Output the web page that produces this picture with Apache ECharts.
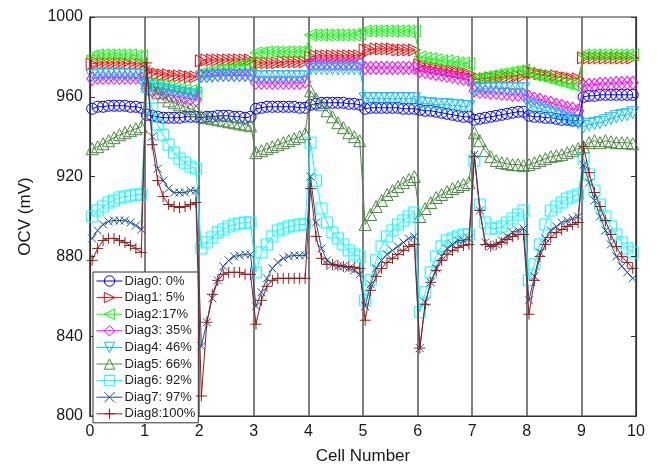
<!DOCTYPE html>
<html>
<head>
<meta charset="utf-8">
<script src="https://cdn.jsdelivr.net/npm/echarts@6/dist/echarts.min.js"></script>
<style>
  html, body { margin: 0; padding: 0; background: #fff; }
  #chart { width: 658px; height: 470px; }
</style>
</head>
<body>
<div id="chart"></div>
<script>
// 10 readings per cell, one row per cell (cell 0 .. cell 9)
let diag0 = [
  954, 955, 955, 955.5, 955.5, 955.5, 955.5, 955, 955, 954.5,
  951, 950.5, 950, 949.5, 949.5, 949.5, 949.5, 950, 950, 950,
  949.5, 950, 950, 950.5, 950.5, 950.5, 950, 950, 949.5, 950,
  954, 954.5, 955, 955, 955, 955, 955, 955, 954.5, 954.5,
  956, 956.5, 957, 957, 957, 957, 957, 956.5, 956.5, 956,
  954, 954.5, 954.5, 954.5, 954.5, 954.5, 954.5, 954, 954, 954,
  953.5, 953, 953, 952.5, 952, 951.5, 951, 950.5, 950, 950,
  948.5, 949, 949.5, 950, 950.5, 951, 951.5, 952, 952.5, 952.5,
  950.5, 950, 950, 949.5, 949.5, 949, 948.5, 948.5, 948, 948,
  960, 960.5, 960.5, 961, 961, 961, 961, 961, 961, 961
]
let diag1 = [
  976.5, 977, 977, 977, 977, 977, 977, 976.5, 976.5, 976.5,
  972.5, 972, 971.5, 971, 971, 970.5, 970.5, 970.5, 970, 970,
  978, 978.5, 978.5, 978.5, 978.5, 978.5, 978.5, 978.5, 978.5, 978.5,
  977, 977, 977, 977, 977, 977.5, 977.5, 977.5, 977.5, 977.5,
  980, 980.5, 980.5, 980.5, 980.5, 980.5, 980.5, 980.5, 980.5, 980.5,
  983.5, 983.5, 984, 984, 984, 984, 983.5, 983.5, 983.5, 983.5,
  976, 975.5, 975, 974.5, 974, 973.5, 973, 972.5, 972, 971.5,
  968.5, 969, 969, 969.5, 969.5, 970, 970, 970, 970.5, 970.5,
  972.5, 972, 971.5, 971, 970.5, 970.5, 970, 969.5, 969, 969,
  979.5, 979.5, 979.5, 979.5, 979.5, 979.5, 979.5, 979.5, 979.5, 979.5
]
let diag2 = [
  980.5, 981, 981, 981, 981, 981, 981, 981, 980.5, 980.5,
  967, 966.5, 966, 965.5, 965, 964.5, 964, 963.5, 963, 962,
  972, 972.5, 973, 973.5, 974, 974.5, 975, 975.5, 976, 976.5,
  982, 982, 982.5, 982.5, 982.5, 982.5, 982.5, 982.5, 982.5, 982.5,
  991, 991, 991, 991, 991, 991, 991, 991, 991, 991.5,
  993, 993, 993, 993, 993, 993, 993, 993, 993, 993,
  980, 979.5, 979, 978.5, 978, 978, 977.5, 977, 977, 976.5,
  969, 969.5, 970, 970.5, 971, 971.5, 972, 972.5, 973, 973.5,
  972, 971, 970.5, 969.5, 969, 968, 967.5, 966.5, 966, 965,
  981, 981, 981, 981, 981, 981, 981, 981, 981, 981
]
let diag3 = [
  969, 969.5, 969.5, 969.5, 969.5, 969.5, 969.5, 969.5, 969.5, 969,
  964, 963, 962, 961.5, 961, 960.5, 960, 959.5, 959, 958.5,
  970.5, 970.5, 971, 971, 971, 971, 971, 971, 971, 971,
  967, 967, 967, 967, 967, 967, 967, 967, 967, 967.5,
  976.5, 976.5, 976.5, 976.5, 976.5, 976.5, 976.5, 976.5, 976.5, 976.5,
  974.5, 974.5, 974.5, 974.5, 974.5, 974.5, 974.5, 974.5, 974.5, 974.5,
  973, 972.5, 972, 971.5, 971, 970.5, 970, 969.5, 969, 968.5,
  963, 962.5, 962.5, 962, 962, 961.5, 961.5, 961, 961, 961,
  960, 959, 958.5, 957.5, 957, 956, 955.5, 954.5, 954, 953,
  965.5, 966, 966, 966.5, 966.5, 966.5, 967, 967, 967, 967
]
let diag4 = [
  970.5, 971, 971, 971, 971, 971, 971, 971, 971, 970.5,
  966, 965, 964, 963.5, 963, 962.5, 962, 961.5, 961, 960.5,
  970, 970, 970, 970.5, 970.5, 970.5, 970.5, 970.5, 970.5, 970.5,
  970, 970, 970, 970, 970, 970, 970, 970, 970, 970,
  974, 974, 974, 974, 974, 974, 974, 974, 974, 974,
  959, 959, 959, 959, 959, 959, 959, 959, 959, 959,
  957, 956.5, 956.5, 956, 956, 956, 955.5, 955.5, 955, 955,
  963.5, 964, 964, 964, 964, 964, 964, 964, 964, 964,
  956, 955, 954, 953, 952, 951, 950, 949, 948, 947,
  945, 946, 946.5, 947, 948, 949, 950, 950.5, 951, 952
]
let diag5 = [
  934, 935, 936.5, 938, 939.5, 941, 942, 943, 944, 945,
  967, 964, 962, 960, 958, 957, 956, 955, 954, 953,
  950, 949.5, 949, 948.5, 948, 947.5, 947, 946.5, 946, 945.5,
  932, 933, 934, 935, 936, 937, 938, 939, 940, 941.5,
  963, 959, 956, 953, 950, 947, 944.5, 942, 940, 938,
  896, 901, 905, 908, 911, 913, 915, 917, 918.5, 920,
  900, 904, 907, 909.5, 911, 912.5, 914, 915, 916, 917,
  942, 938, 933, 930, 928, 927, 926.5, 926, 926, 925.5,
  926, 927, 928, 929, 930, 930.5, 931, 932, 933, 934,
  935, 937, 938, 937, 938, 937.5, 937, 937, 937, 936.5
]
let diag6 = [
  900, 903, 905, 907, 908, 909.5, 910, 910.5, 911, 911,
  965, 954, 946, 941, 936, 932, 929, 927, 925, 924,
  884, 887, 889.5, 892, 893.5, 895, 896, 896.5, 897, 897,
  872, 882, 886, 890, 893, 894, 895, 895.5, 896, 896,
  937, 918, 904, 897, 892, 889, 886, 883, 881, 880,
  858, 868, 878, 885, 890, 893, 896, 898, 900, 902,
  852, 862, 872, 880, 885, 888, 889, 890, 891, 891,
  928, 906, 897, 894, 894, 895, 897, 899, 901, 903,
  868, 876, 886, 896, 903, 905, 907, 909, 910, 911,
  929, 921, 913, 906, 900, 895, 891, 887, 884, 882
]
let diag7 = [
  889, 893, 896, 897.5, 898, 898, 898, 897, 895.5, 893.5,
  974, 940, 924, 918, 914, 912, 912, 912, 913, 913,
  835, 847, 859, 868, 875, 878, 880, 880.5, 881, 881,
  855, 862, 869, 874, 877, 879, 880, 880.5, 880.5, 880.5,
  920, 897, 884, 878, 876, 875, 875, 874, 873, 871,
  855, 866, 874, 878, 881, 883, 885, 887, 889, 890,
  834, 857, 867, 874, 880, 884, 886, 888, 888, 889,
  931, 903, 887, 885, 886, 888, 890, 892, 893, 894,
  858, 870, 882, 889, 893, 895, 897, 898, 899, 900,
  926, 917, 908, 900, 893, 886, 880, 875, 872, 869
]
let diag8 = [
  878, 884, 888, 889, 889, 888, 887, 885.5, 884, 882,
  977, 936, 918, 910, 906, 905, 904.5, 905, 906, 907,
  810, 847, 861, 868, 871, 872, 872, 872, 871, 871,
  846, 858, 865, 868, 869, 869, 869, 869, 869, 869,
  914, 890, 879, 876, 876, 875.5, 875, 875, 874.5, 874,
  848, 863, 870, 874, 877, 879, 881, 883, 885, 886,
  834, 856, 867, 873, 878, 881, 883, 884.5, 885.5, 886,
  930, 903, 886, 885, 886, 887, 888.5, 890, 891, 891,
  851, 868, 880, 886, 889.5, 892, 893.5, 895, 896, 897,
  935, 922, 912, 905, 898, 891, 885, 880, 877, 874
]
let names = ['Diag0: 0%', 'Diag1: 5%', 'Diag2:17%', 'Diag3: 35%', 'Diag4: 46%',
  'Diag5: 66%', 'Diag6: 92%', 'Diag7: 97%', 'Diag8:100%']
let values = [diag0, diag1, diag2, diag3, diag4, diag5, diag6, diag7, diag8]
let xTicks = [0, 1, 2, 3, 4, 5, 6, 7, 8, 9, 10]
let yTicks = [800, 840, 880, 920, 960, 1000]

let colors = ['#0000ff', '#ff0000', '#00ff00', '#ff00ff', '#00bfff',
  '#4a8a3f', '#00ffff', '#1f4f99', '#991a1a']
let symbols = ['circle', 'triangle', 'triangle', 'diamond', 'triangle', 'triangle', 'rect',
  'path://M0,0L10,10M10,0L0,10', 'path://M5,0L5,10M0,5L10,5']
let rotates = [0, -90, 90, 0, 180, 0, 0, 0, 0]
let sizes = [11, 12, 12, [11, 13], 12, 12, 11, 8, 11]
let perCell = 10

// x position of each reading inside its cell
function toPoints(vals) {
  return vals.map(function (v, i) {
    let cell = Math.floor(i / perCell)
    return [cell + 0.04 + (i % perCell) * 0.1, v]
  })
}

let series = []
for (let i = 0; i < values.length; i++) {
  series.push({
    name: names[i],
    type: 'line',
    data: toPoints(values[i]),
    symbol: symbols[i],
    symbolSize: sizes[i],
    symbolRotate: rotates[i],
    showAllSymbol: true,
    lineStyle: { color: colors[i], width: 1 },
    itemStyle: { color: 'rgba(0,0,0,0)', borderColor: colors[i], borderWidth: 1 },
    emphasis: { disabled: true },
    z: 2 + i
  })
}

let font = 'Arial, "Liberation Sans", sans-serif'
let chart = echarts.init(document.getElementById('chart'))
chart.setOption({
  animation: false,
  backgroundColor: '#fff',
  textStyle: { fontFamily: font },
  grid: {
    left: 90, right: 22, top: 17, bottom: 49,
    show: true, borderColor: '#333', borderWidth: 1.2
  },
  legend: {
    orient: 'vertical',
    left: 93, top: 272,
    data: names,
    itemWidth: 26,
    itemHeight: 13,
    itemGap: 2.6,
    padding: [2, 3, 2, 3],
    backgroundColor: '#fff',
    borderColor: '#333',
    borderWidth: 1,
    itemStyle: { borderWidth: 1 },
    lineStyle: { width: 1 },
    textStyle: { fontSize: 13, lineHeight: 14, color: '#222', fontFamily: font, padding: [0, 0, 0, -3] }
  },
  xAxis: {
    type: 'value',
    min: xTicks[0], max: xTicks[xTicks.length - 1], interval: 1,
    name: 'Cell Number',
    nameLocation: 'middle',
    nameGap: 32,
    nameTextStyle: { fontSize: 17, color: '#1a1a1a' },
    axisLine: { lineStyle: { color: '#333', width: 1.2 } },
    axisTick: { show: false },
    axisLabel: { fontSize: 16, color: '#1a1a1a', margin: 8 },
    splitLine: { show: true, lineStyle: { color: '#555', width: 1.5 } }
  },
  yAxis: [{
    type: 'value',
    min: yTicks[0], max: yTicks[yTicks.length - 1], interval: 40,
    name: 'OCV (mV)',
    nameLocation: 'middle',
    nameGap: 56,
    nameTextStyle: { fontSize: 17, color: '#1a1a1a' },
    axisLine: { show: true, lineStyle: { color: '#333', width: 1.2 } },
    axisTick: { show: true, inside: true, length: 5, lineStyle: { color: '#333' } },
    axisLabel: { fontSize: 16, color: '#1a1a1a', margin: 7, formatter: function (v) { return String(v) } },
    splitLine: { show: false }
  }, {
    type: 'value',
    position: 'right',
    min: yTicks[0], max: yTicks[yTicks.length - 1], interval: 40,
    axisLine: { show: true, lineStyle: { color: '#333', width: 1.2 } },
    axisTick: { show: true, inside: true, length: 5, lineStyle: { color: '#333' } },
    axisLabel: { show: false },
    splitLine: { show: false }
  }],
  series: series
})
</script>
</body>
</html>
